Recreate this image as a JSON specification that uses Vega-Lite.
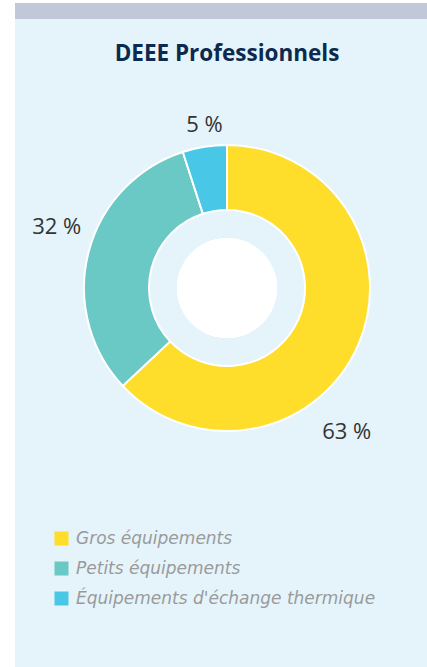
{
  "$schema": "https://vega.github.io/schema/vega-lite/v6.json",
  "background": "white",
  "padding": {"left": 15, "top": 3, "right": 0, "bottom": 0},
  "spacing": 0,
  "datasets": {
    "deee": [
      {"categorie": "Gros équipements", "part": 63, "label": "63 %"},
      {"categorie": "Petits équipements", "part": 32, "label": "32 %"},
      {"categorie": "Équipements d'échange thermique", "part": 5, "label": "5 %"}
    ]
  },
  "config": {"view": {"stroke": null}, "font": "Open Sans"},
  "vconcat": [
    {
      "width": 424,
      "height": 16,
      "view": {"fill": "#C1C8D8", "stroke": null},
      "data": {"name": "deee"},
      "mark": {"type": "text", "text": ""},
      "encoding": {}
    },
    {
      "width": 424,
      "height": 648,
      "view": {"fill": "#E4F4FA", "stroke": null},
      "title": {
        "text": "DEEE Professionnels",
        "font": "Open Sans",
        "fontSize": 22.5,
        "fontWeight": "bold",
        "color": "#0C2A4F",
        "anchor": "middle",
        "frame": "group",
        "offset": -46
      },
      "data": {"name": "deee"},
      "layer": [
        {
          "mark": {"type": "arc", "outerRadius": 143, "innerRadius": 78, "stroke": "white", "strokeWidth": 2, "yOffset": -55},
          "encoding": {
            "theta": {"field": "part", "type": "quantitative", "stack": true},
            "order": {"field": "categorie", "type": "nominal", "sort": "ascending"},
            "color": {
              "field": "categorie",
              "type": "nominal",
              "scale": {
                "domain": ["Gros équipements", "Petits équipements", "Équipements d'échange thermique"],
                "range": ["#FEDD2B", "#6BC9C5", "#48C8E6"]
              },
              "legend": {
                "orient": "none",
                "legendX": 38,
                "legendY": 527,
                "direction": "vertical",
                "title": null,
                "symbolType": "square",
                "symbolSize": 196,
                "symbolStrokeWidth": 0,
                "labelFont": "DejaVu Sans",
                "labelFontSize": 17,
                "labelFontStyle": "italic",
                "labelColor": "#9A9A9A",
                "labelOffset": 6,
                "rowPadding": 12,
                "labelLimit": 400
              }
            }
          }
        },
        {
          "mark": {"type": "arc", "theta": 0, "theta2": 6.2832, "outerRadius": 50, "innerRadius": 0, "fill": "white", "yOffset": -55},
          "encoding": {}
        },
        {
          "mark": {"type": "text", "radius": 187, "thetaOffset": 0.468, "fontSize": 22, "color": "#333333", "align": "center", "baseline": "middle", "yOffset": -55},
          "encoding": {
            "theta": {"field": "part", "type": "quantitative", "stack": true},
            "order": {"field": "categorie", "type": "nominal", "sort": "ascending"},
            "text": {"condition": {"test": "datum.part == 63", "field": "label"}, "value": ""}
          }
        },
        {
          "mark": {"type": "text", "radius": 181, "thetaOffset": 0.094, "fontSize": 22, "color": "#333333", "align": "center", "baseline": "middle", "yOffset": -55},
          "encoding": {
            "theta": {"field": "part", "type": "quantitative", "stack": true},
            "order": {"field": "categorie", "type": "nominal", "sort": "ascending"},
            "text": {"condition": {"test": "datum.part == 32", "field": "label"}, "value": ""}
          }
        },
        {
          "mark": {"type": "text", "radius": 164.5, "thetaOffset": 0.02, "fontSize": 22, "color": "#333333", "align": "center", "baseline": "middle", "yOffset": -55},
          "encoding": {
            "theta": {"field": "part", "type": "quantitative", "stack": true},
            "order": {"field": "categorie", "type": "nominal", "sort": "ascending"},
            "text": {"condition": {"test": "datum.part == 5", "field": "label"}, "value": ""}
          }
        }
      ]
    }
  ]
}
